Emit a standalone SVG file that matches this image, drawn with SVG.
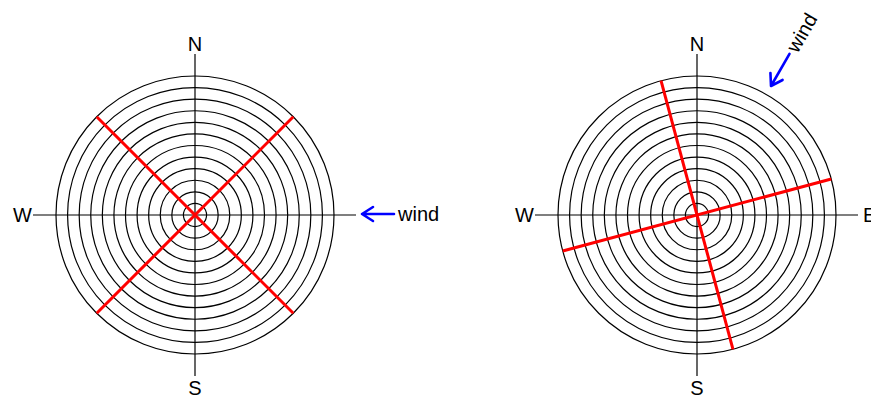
<svg xmlns="http://www.w3.org/2000/svg" xmlns:xlink="http://www.w3.org/1999/xlink" width="871" height="400" viewBox="0 0 871 400">
<style>
.ring{fill:none;stroke:#000;stroke-width:1.2}
.axis{stroke:#000;stroke-width:1.2}
.red{stroke:#ff0000;stroke-width:3;stroke-linecap:butt}
.wind{fill:none;stroke:#0000ff;stroke-width:2.6;stroke-linecap:round;stroke-linejoin:round}
text{font-family:"Liberation Sans",Arial,sans-serif;font-size:20px;fill:#000}
</style>
<defs>
<g id="rings">
<circle class="ring" r="11.58"/><circle class="ring" r="23.17"/><circle class="ring" r="34.75"/>
<circle class="ring" r="46.33"/><circle class="ring" r="57.92"/><circle class="ring" r="69.5"/>
<circle class="ring" r="81.08"/><circle class="ring" r="92.67"/><circle class="ring" r="104.25"/>
<circle class="ring" r="115.83"/><circle class="ring" r="127.42"/><circle class="ring" r="139"/>
<line class="axis" x1="-162" y1="0" x2="161" y2="0"/>
<line class="axis" x1="0" y1="-161" x2="0" y2="161"/>
</g>
<g id="cross">
<line class="red" x1="0" y1="-139" x2="0" y2="139"/>
<line class="red" x1="-139" y1="0" x2="139" y2="0"/>
</g>
</defs>

<g id="compass-left">
<use xlink:href="#rings" transform="translate(195,215)"/>
<use xlink:href="#cross" transform="translate(195,215) rotate(45)"/>
<text x="195" y="51" text-anchor="middle">N</text>
<text x="195" y="395" text-anchor="middle">S</text>
<text x="32" y="222" text-anchor="end">W</text>
</g>

<g id="compass-right">
<use xlink:href="#rings" transform="translate(697,215)"/>
<use xlink:href="#cross" transform="translate(697,215) rotate(-15)"/>
<text x="697" y="51" text-anchor="middle">N</text>
<text x="697" y="395" text-anchor="middle">S</text>
<text x="534" y="222" text-anchor="end">W</text>
<text x="863" y="222">E</text>
</g>

<g id="connectors">
<g id="wind-left" transform="translate(362,214)">
<path class="wind" d="M0,0 H32 M11,-7 L0,0 L11,7"/>
<text x="36" y="7">wind</text>
</g>
<g id="wind-right" transform="translate(771,86) rotate(-60)">
<path class="wind" d="M0,0 H37 M11,-7 L0,0 L11,7"/>
<text x="41" y="7">wind</text>
</g>
</g>
</svg>
